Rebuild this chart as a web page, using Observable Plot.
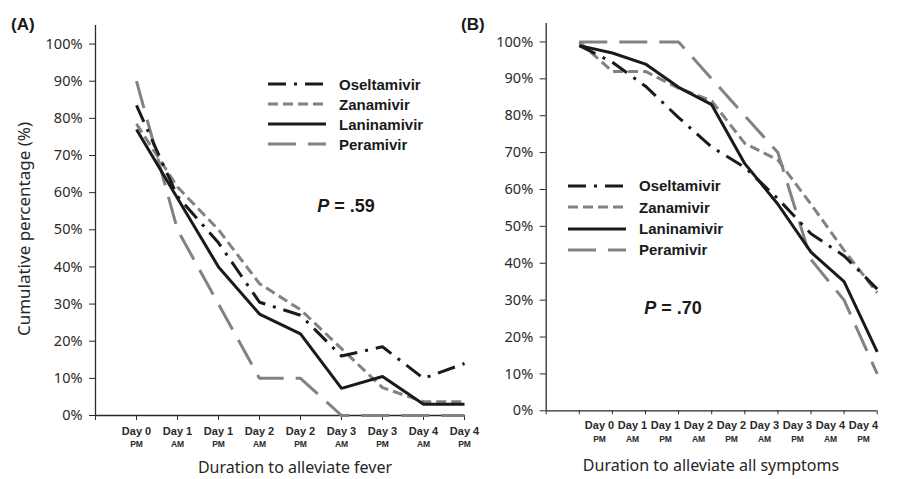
<!DOCTYPE html>
<html><head><meta charset="utf-8">
<script src="https://cdn.jsdelivr.net/npm/d3@7"></script>
<script src="https://cdn.jsdelivr.net/npm/@observablehq/plot@0.6"></script>
<style>
html,body{margin:0;padding:0;background:#fff;}
#wrap{position:relative;width:909px;height:479px;overflow:hidden;font-family:"Noto Sans",sans-serif;color:#262626;}
.lab{position:absolute;white-space:nowrap;line-height:1.2;}
.panel{font:bold 17px "Liberation Sans",Arial,sans-serif;color:#1a1a1a;transform:translate(0,-50%);}
.ytitle{font-size:17px;transform:translate(-50%,-50%) rotate(-90deg);}
.xtitle{font-size:16px;transform:translate(-50%,-50%);}
.pval{font:bold 18px "Liberation Sans",Arial,sans-serif;color:#1a1a1a;transform:translate(-50%,-50%);}
.legend{position:absolute;}
.legrow{display:flex;align-items:center;}
.legrow span{font:bold 15px "Liberation Sans",Arial,sans-serif;margin-left:13px;color:#1a1a1a;}
</style></head><body><div id="wrap"></div>
<script>
// ---- data ----
const drugs = ["Oseltamivir", "Zanamivir", "Laninamivir", "Peramivir"];
const drugColors = ["#1a1a1a", "#828282", "#1a1a1a", "#828282"];
const drugDashes = ["18,8,3,8", "10,5", null, "28,12"];

// Panel A: duration to alleviate fever (cumulative %)
const feverDay  = ["Day 0", "Day 1", "Day 1", "Day 2", "Day 2", "Day 3", "Day 3", "Day 4", "Day 4"];
const feverHalf = ["PM", "AM", "PM", "AM", "PM", "AM", "PM", "AM", "PM"];
const feverOseltamivir = [83.5, 59, 46.5, 30.5, 27, 16, 18.5, 10, 14];
const feverZanamivir   = [78.5, 61.5, 50, 35.5, 28.5, 18, 7.5, 3.7, 3.7];
const feverLaninamivir = [77, 58.5, 40, 27.3, 22, 7.3, 10.5, 3, 3];
const feverPeramivir   = [90, 50, 30, 10, 10, 0, 0, 0, 0];

// Panel B: duration to alleviate all symptoms (cumulative %)
const symptomDay  = ["Day 0", "Day 1", "Day 1", "Day 2", "Day 2", "Day 3", "Day 3", "Day 4", "Day 4"];
const symptomHalf = ["PM", "AM", "PM", "AM", "PM", "AM", "PM", "AM", "PM"];
const symptomOseltamivir = [99, 94.5, 88, 79.5, 71.5, 66, 57.5, 48, 42, 33];
const symptomZanamivir   = [100, 92, 92, 87.5, 84, 72.5, 68, 56, 43.5, 32];
const symptomLaninamivir = [99, 97, 94, 87.7, 83, 67, 56, 43, 35, 16];
const symptomPeramivir   = [100, 100, 100, 100, 90, 80, 70, 41, 30, 10];

const yTickValues = [0, 10, 20, 30, 40, 50, 60, 70, 80, 90, 100];
const pFever = "P = .59";
const pSymptom = "P = .70";

// ---- helpers ----
const wrap = document.getElementById("wrap");
function tidy(seriesList) {
  return drugs.flatMap((d, j) => seriesList[j].map((v, i) => ({drug: d, x: i + 1, y: v})));
}
const drawOrder = [3, 1, 0, 2];
function lineMarks(rows) {
  return drawOrder.map(j => Plot.line(rows.filter(r => r.drug === drugs[j]), {
    x: "x", y: "y", stroke: drugColors[j], strokeWidth: 3,
    strokeDasharray: drugDashes[j], strokeLinecap: "butt", strokeLinejoin: "miter"
  }));
}
function place(svg, left) {
  svg.style.position = "absolute";
  svg.style.left = left + "px";
  svg.style.top = "0px";
  svg.style.maxWidth = "none";
  svg.style.background = "transparent";
  svg.style.overflow = "visible";
  wrap.appendChild(svg);
}
function addLabel(cls, html, left, top) {
  const el = document.createElement("div");
  el.className = "lab " + cls;
  el.innerHTML = html;
  el.style.left = left + "px";
  el.style.top = top + "px";
  wrap.appendChild(el);
}
function addLegend(left, top, rowH) {
  const box = document.createElement("div");
  box.className = "legend";
  box.style.left = left + "px";
  box.style.top = top + "px";
  drugs.forEach((d, j) => {
    const row = document.createElement("div");
    row.className = "legrow";
    row.style.height = rowH + "px";
    row.innerHTML = `<svg width="58" height="10" style="display:block"><line x1="0" x2="58" y1="5" y2="5" stroke="${drugColors[j]}" stroke-width="3" ${drugDashes[j] ? `stroke-dasharray="${drugDashes[j]}"` : ""}/></svg><span>${d}</span>`;
    box.appendChild(row);
  });
  wrap.appendChild(box);
}
const axisStyle = {color: "#2a2a2a"};
const dayText = {fontSize: 11, fontWeight: "bold", fontFamily: "Liberation Sans"};
const halfText = {fontSize: 8.5, fontWeight: "bold", fontFamily: "Liberation Sans"};

// ---- Panel A ----
const rowsA = tidy([feverOseltamivir, feverZanamivir, feverLaninamivir, feverPeramivir]);
const plotA = Plot.plot({
  width: 480, height: 479,
  marginLeft: 95, marginRight: 16, marginTop: 25, marginBottom: 64,
  x: {domain: [0, feverDay.length], axis: null, label: null},
  y: {domain: [0, 105], axis: null, label: null},
  style: {fontFamily: "Noto Sans", background: "transparent", color: "#2a2a2a"},
  marks: [
    Plot.axisY({ticks: yTickValues, tickFormat: d => d + "%", tickSize: 6, tickPadding: 7, fontSize: 14.5, label: null, ...axisStyle}),
    Plot.axisX({ticks: d3.range(0, feverDay.length + 1), tickSize: 5, tickPadding: 6.5,
      tickFormat: i => i === 0 ? "" : feverDay[i - 1], ...dayText, label: null, ...axisStyle}),
    Plot.axisX({ticks: d3.range(1, feverDay.length + 1), tickSize: 0, tickPadding: 25,
      tickFormat: i => feverHalf[i - 1], ...halfText, label: null, ...axisStyle}),
    Plot.ruleX([0], {stroke: "#2a2a2a", strokeWidth: 1.3}),
    Plot.ruleY([0], {stroke: "#2a2a2a", strokeWidth: 1.3}),
    ...lineMarks(rowsA)
  ]
});
place(plotA, 0);

// ---- Panel B ----
const rowsB = tidy([symptomOseltamivir, symptomZanamivir, symptomLaninamivir, symptomPeramivir]);
const nB = symptomOseltamivir.length;
const plotB = Plot.plot({
  width: 459, height: 479,
  marginLeft: 95.7, marginRight: 32.3, marginTop: 23, marginBottom: 68.7,
  x: {domain: [0, nB], axis: null, label: null},
  y: {domain: [0, 105], axis: null, label: null},
  style: {fontFamily: "Noto Sans", background: "transparent", color: "#2a2a2a"},
  marks: [
    Plot.axisY({ticks: yTickValues, tickFormat: d => d + "%", tickSize: 6, tickPadding: 7, fontSize: 14.5, label: null, ...axisStyle}),
    Plot.axisX({ticks: d3.range(0, nB + 1), tickSize: 4, tickFormat: () => "", label: null, ...axisStyle}),
    Plot.ruleX([0], {stroke: "#2a2a2a", strokeWidth: 1.3}),
    Plot.ruleY([0], {stroke: "#2a2a2a", strokeWidth: 1.3}),
    ...lineMarks(rowsB)
  ]
});
place(plotB, 450);

// Panel B tick labels (printed on their own, evenly spaced row)
const plotBLabels = Plot.plot({
  width: 459, height: 479,
  marginTop: 23, marginBottom: 68.7,
  x: {type: "point", domain: d3.range(symptomDay.length), range: [129.4, 431.7], axis: null, label: null},
  style: {fontFamily: "Liberation Sans", background: "transparent", color: "#2a2a2a"},
  marks: [
    Plot.axisX({tickSize: 0, tickPadding: 10, tickFormat: i => symptomDay[i], ...dayText, label: null, ...axisStyle}),
    Plot.axisX({tickSize: 0, tickPadding: 25, tickFormat: i => symptomHalf[i], ...halfText, label: null, ...axisStyle})
  ]
});
place(plotBLabels, 450);

// ---- annotations ----
addLabel("panel", "(A)", 11, 25);
addLabel("panel", "(B)", 461, 25);
addLabel("ytitle", "Cumulative percentage (%)", 24, 229);
addLabel("xtitle", "Duration to alleviate fever", 295, 468);
addLabel("xtitle", "Duration to alleviate all symptoms", 711, 466);
addLabel("pval", pFever.replace("P", "<i>P</i>"), 346, 206);
addLabel("pval", pSymptom.replace("P", "<i>P</i>"), 673, 308);
addLegend(268, 74, 20);
addLegend(568, 175.3, 21.3);
</script></body></html>
